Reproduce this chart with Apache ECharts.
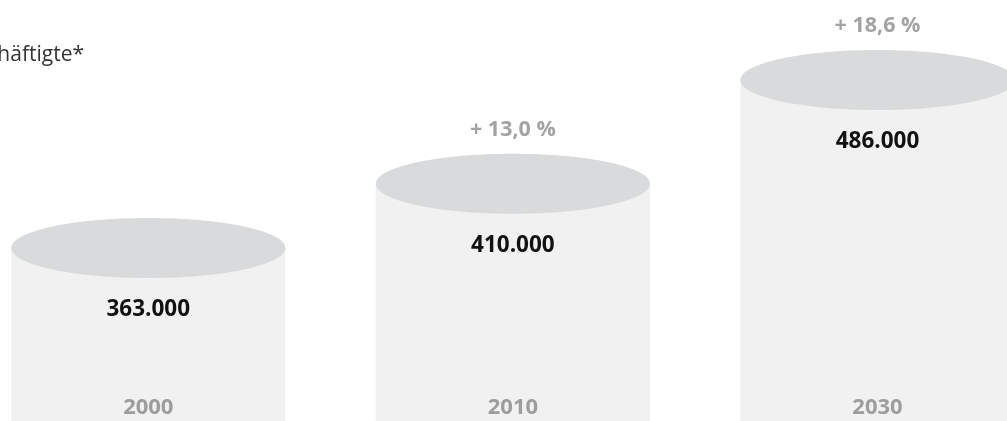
<!DOCTYPE html>
<html>
<head>
<meta charset="utf-8">
<script src="https://cdn.jsdelivr.net/npm/echarts@6/dist/echarts.min.js"></script>
<style>
html,body{margin:0;padding:0;background:#fff;}
#chart{width:1007px;height:421px;}
</style>
</head>
<body>
<div id="chart"></div>
<script>
// Data
const years = ['2000', '2010', '2030'];
const employees = [363000, 410000, 486000];
const changeLabels = ['', '+ 13,0 %', '+ 18,6 %'];
const valueLabels = ['363.000', '410.000', '486.000'];
const titleText = 'Beschäftigte*';

const chart = echarts.init(document.getElementById('chart'));

const FONT = '"Open Sans", "Noto Sans", sans-serif';

function renderItem(params, api) {
  const idx = api.value(0);
  const val = api.value(1);
  const top = api.coord([idx, val]);
  const base = api.coord([idx, 236400]);
  const band = api.size([1, 0])[0];
  const w = band * 0.752;
  const rx = w / 2;
  const ry = 30;
  const cx = top[0];
  const cy = top[1];
  const children = [
    { type: 'rect', shape: { x: cx - rx, y: cy, width: w, height: base[1] - cy }, style: { fill: '#f1f1f1' } },
    { type: 'ellipse', shape: { cx: cx, cy: cy, rx: rx, ry: ry }, style: { fill: '#d9dadb' } },
    { type: 'text', style: { text: valueLabels[idx], x: cx, y: cy + 62, align: 'center', verticalAlign: 'middle', font: 'bold 22.5px ' + FONT, fill: '#111' } },
    { type: 'text', style: { text: years[idx], x: cx, y: base[1] - 13, align: 'center', verticalAlign: 'middle', font: 'bold 22px ' + FONT, fill: '#9d9d9d' } }
  ];
  if (changeLabels[idx]) {
    children.push({ type: 'text', style: { text: changeLabels[idx], x: cx, y: cy - 54, align: 'center', verticalAlign: 'middle', font: 'bold 21.5px ' + FONT, fill: '#a3a3a3' } });
  }
  return { type: 'group', children: children };
}

chart.setOption({
  animation: false,
  grid: { left: 0, right: 0, top: 0, bottom: 0 },
  xAxis: { type: 'value', min: -0.4067, max: 2.3552, show: false },
  yAxis: { type: 'value', min: 236400, max: 544600, show: false },
  graphic: [
    { type: 'text', right: 1007 - 84, top: 45, style: { text: titleText, font: '21px ' + FONT, fill: '#333' } }
  ],
  series: [{
    type: 'custom',
    renderItem: renderItem,
    clip: false,
    data: employees.map((v, i) => [i, v])
  }]
});
</script>
</body>
</html>
